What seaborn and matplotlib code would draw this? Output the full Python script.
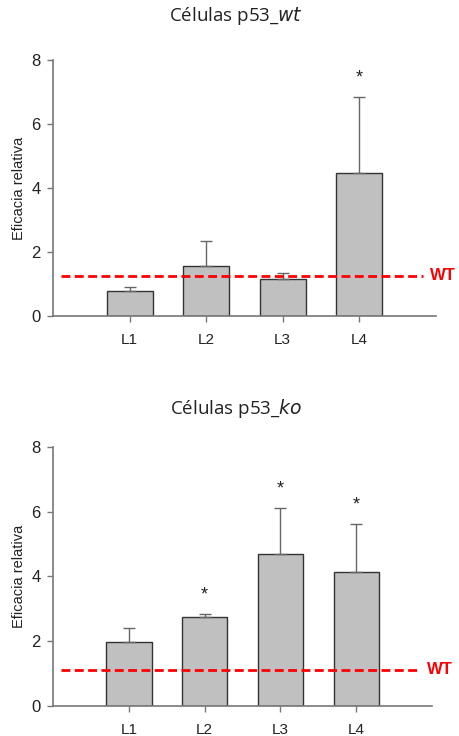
import matplotlib
matplotlib.use("Agg")
import matplotlib.pyplot as plt
import seaborn as sns
import pandas as pd

lines = ["L1", "L2", "L3", "L4"]

wt_means = [0.78, 1.55, 1.14, 4.48]
wt_errs = [0.13, 0.78, 0.21, 2.37]
wt_sig = [False, False, False, True]
wt_ref = 1.26

ko_means = [1.99, 2.75, 4.69, 4.14]
ko_errs = [0.43, 0.09, 1.41, 1.48]
ko_sig = [False, True, True, True]
ko_ref = 1.12

titles = [("Células p53_", "wt"), ("Células p53_", "ko")]
ylabel = "Eficacia relativa"
yticks = [0, 2, 4, 6, 8]

sns.set_style("white")
plt.rcParams["font.family"] = ["Liberation Sans", "DejaVu Sans"]

fig = plt.figure(figsize=(4.59, 7.36), dpi=100)
ax_top = fig.add_axes([0.1155, 0.5707, 0.834, 0.3478])
ax_bot = fig.add_axes([0.1155, 0.0408, 0.826, 0.352])

def draw(ax, means, errs, sig, ref, title, title_y):
    df = pd.DataFrame({"line": lines, "value": means})
    sns.barplot(data=df, x="line", y="value", ax=ax, color="#c0c0c0",
                saturation=1, width=0.6, edgecolor="#333333", linewidth=1.0,
                errorbar=None)
    xs = list(range(len(lines)))
    ax.errorbar(xs, means, yerr=[[0] * len(errs), errs], fmt="none",
                ecolor="#666666", elinewidth=1.0, capsize=4.5, capthick=1.0,
                zorder=3)
    for x, m, e, s in zip(xs, means, errs, sig):
        if s:
            ax.text(x, m + e + 0.33, "*", ha="center", va="bottom",
                    fontsize=13, color="#222222")
    ax.plot([-0.9, 3.83], [ref, ref], color="#ff0000", linestyle=(0, (3.2, 1.6)),
            linewidth=2.0, zorder=4, clip_on=False)
    ax.text(3.93, ref, "WT", color="#ff0000", fontweight="bold", fontsize=12,
            va="center", ha="left", clip_on=False)
    ax.set_xlim(-1.0, 4.0)
    ax.set_ylim(0, 8)
    ax.set_yticks(yticks)
    ax.set_yticklabels([str(t) for t in yticks], fontsize=12, color="#222222")
    ax.set_xticks(xs)
    ax.set_xticklabels(lines, fontsize=11, color="#222222")
    ax.set_xlabel("")
    ax.set_ylabel(ylabel, fontsize=10.5, color="#222222", labelpad=4)
    sns.despine(ax=ax)
    for sp in ["left", "bottom"]:
        ax.spines[sp].set_color("#777777")
        ax.spines[sp].set_linewidth(1.2)
    ax.tick_params(axis="y", direction="out", length=4, width=1, color="#777777", pad=5, left=True)
    ax.tick_params(axis="x", direction="out", length=4, width=1, color="#777777", pad=8, bottom=True)
    ax.set_facecolor("white")
    base, it = title
    fig.text(0.515, title_y, base + r"$\it{" + it + "}$", ha="center", va="center",
             fontsize=13.5, family="Open Sans", color="#222222")

draw(ax_top, wt_means, wt_errs, wt_sig, wt_ref, titles[0], 0.978)
draw(ax_bot, ko_means, ko_errs, ko_sig, ko_ref, titles[1], 0.445)

fig.savefig("out.png", dpi=100, facecolor="white")
